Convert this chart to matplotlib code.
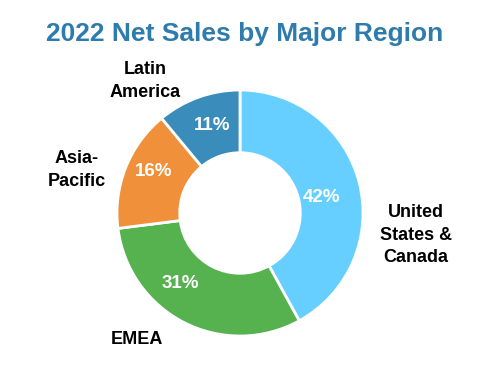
import matplotlib.pyplot as plt

regions = ['United\nStates &\nCanada', 'EMEA', 'Asia-\nPacific', 'Latin\nAmerica']
shares = [42, 31, 16, 11]
colors = ['#66CFFF', '#55B24F', '#F0903A', '#3A8DBB']

# label positions in pixel space (x, y from top)
label_pos = [(416, 235), (137, 340), (77, 170), (145, 81)]
pct_pos = [(322, 198), (180, 283), (154, 172), (212, 126)]

W, H = 503, 368
fig = plt.figure(figsize=(W / 100, H / 100), dpi=100)
ax = fig.add_axes([0, 0, 1, 1])

plt.rcParams['font.family'] = ['Liberation Sans', 'DejaVu Sans']

cx, cy, r = 240, 213, 123
# y axis is inverted: start at -90 (screen top), ccw in data = clockwise on screen
wedges, _ = ax.pie(shares, colors=colors, startangle=-90, counterclock=True,
                   center=(cx, cy), radius=r, frame=True,
                   wedgeprops=dict(width=r * 0.51, edgecolor='white', linewidth=2))
ax.set_xlim(0, W)
ax.set_ylim(H, 0)
ax.set_aspect('equal')
ax.axis('off')

for s, (x, y) in zip(shares, pct_pos):
    ax.text(x, y, f'{s}%', color='white', fontsize=13.5, fontweight='bold',
            ha='center', va='center')

for lab, (x, y) in zip(regions, label_pos):
    ax.text(x, y, lab, color='black', fontsize=13, fontweight='bold',
            ha='center', va='center', linespacing=1.4)

ax.text(245, 34, '2022 Net Sales by Major Region', color='#2E7BAD',
        fontsize=19, fontweight='bold', ha='center', va='center')

fig.savefig('out.png', dpi=100)
